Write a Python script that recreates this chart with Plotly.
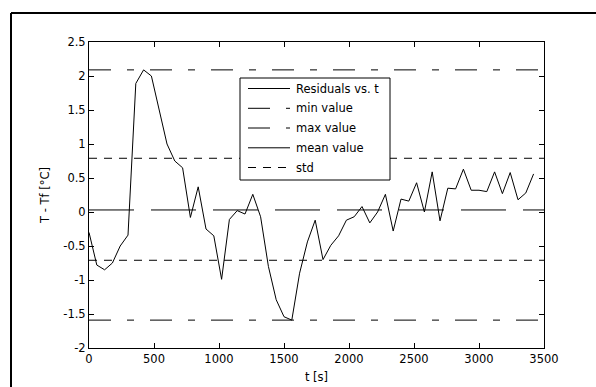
import plotly.graph_objects as go

# ---- data ----
t_s = [0, 60, 120, 180, 240, 300, 360, 420, 480, 540, 600, 660, 720, 780, 840, 900,
       960, 1020, 1080, 1140, 1200, 1260, 1320, 1380, 1440, 1500, 1560, 1620, 1680,
       1740, 1800, 1860, 1920, 1980, 2040, 2100, 2160, 2220, 2280, 2340, 2400, 2460,
       2520, 2580, 2640, 2700, 2760, 2820, 2880, 2940, 3000, 3060, 3120, 3180, 3240,
       3300, 3360, 3420]
residuals = [-0.30, -0.78, -0.85, -0.75, -0.50, -0.34, 1.89, 2.09, 2.00, 1.50, 1.00,
             0.75, 0.65, -0.08, 0.37, -0.25, -0.35, -0.99, -0.11, 0.02, -0.03, 0.26,
             -0.07, -0.80, -1.29, -1.54, -1.59, -0.90, -0.44, -0.12, -0.70, -0.49,
             -0.35, -0.12, -0.07, 0.08, -0.16, 0.00, 0.26, -0.28, 0.19, 0.16, 0.43,
             0.00, 0.59, -0.13, 0.35, 0.34, 0.63, 0.32, 0.32, 0.30, 0.59, 0.27, 0.58,
             0.18, 0.28, 0.56]
min_value = -1.59
max_value = 2.09
mean_value = 0.03
std_upper = 0.79
std_lower = -0.71
x_range = [0, 3500]
y_range = [-2, 2.5]
x_ticks = [0, 500, 1000, 1500, 2000, 2500, 3000, 3500]
y_ticks = [-2, -1.5, -1, -0.5, 0, 0.5, 1, 1.5, 2, 2.5]
y_tick_text = ["-2", "-1.5", "-1", "-0.5", "0", "0.5", "1", "1.5", "2", "2.5"]
legend_labels = ["Residuals vs. t", "min value", "max value", "mean value", "std"]

# ---- styles ----
W, H = 596, 387
L, R, T, B = 89, 544, 42, 348
FONT = "DejaVu Sans, Verdana, sans-serif"
FS = 11.5
DASH_MINMAX = "22px,16px,7px,16px"
DASH_MEAN = "45px,17px"
DASH_STD = "8px,7px"


def px_x(p):
    return (p - L) / (R - L)


def px_y(p):
    return (B - p) / (B - T)


fig = go.Figure()
fig.add_trace(go.Scatter(x=t_s, y=residuals, mode="lines",
                         line=dict(color="black", width=1), showlegend=False))
for val, dash in [(min_value, DASH_MINMAX), (max_value, DASH_MINMAX),
                  (mean_value, DASH_MEAN), (std_upper, DASH_STD), (std_lower, DASH_STD)]:
    fig.add_trace(go.Scatter(x=x_range, y=[val, val], mode="lines",
                             line=dict(color="black", width=1, dash=dash),
                             showlegend=False))

shapes = []
# outer frame (extends off canvas to right and bottom)
shapes.append(dict(type="line", xref="paper", yref="paper",
                   x0=px_x(11), y0=px_y(13), x1=px_x(W + 20), y1=px_y(13),
                   line=dict(color="black", width=2)))
shapes.append(dict(type="line", xref="paper", yref="paper",
                   x0=px_x(11), y0=px_y(13), x1=px_x(11), y1=px_y(H + 20),
                   line=dict(color="black", width=2)))
# custom legend box
shapes.append(dict(type="rect", xref="paper", yref="paper",
                   x0=px_x(240), y0=px_y(78), x1=px_x(390), y1=px_y(180),
                   line=dict(color="black", width=1), fillcolor="white", layer="above"))
rows = [88.5, 108.3, 128, 147.8, 167.5]
dashes = ["solid", DASH_MINMAX, DASH_MINMAX, DASH_MEAN, DASH_STD]
annotations = []
for yrow, dash, lab in zip(rows, dashes, legend_labels):
    shapes.append(dict(type="line", xref="paper", yref="paper",
                       x0=px_x(248), y0=px_y(yrow), x1=px_x(290), y1=px_y(yrow),
                       line=dict(color="black", width=1, dash=dash), layer="above"))
    annotations.append(dict(xref="paper", yref="paper", x=px_x(294), y=px_y(yrow),
                            text=lab, showarrow=False, xanchor="left", yanchor="middle",
                            font=dict(family=FONT, size=FS, color="black")))

fig.update_layout(
    width=W, height=H,
    margin=dict(l=L, r=W - R, t=T, b=H - B, pad=0, autoexpand=False),
    paper_bgcolor="white", plot_bgcolor="white",
    font=dict(family=FONT, size=FS, color="black"),
    shapes=shapes, annotations=annotations,
    showlegend=False,
)
fig.update_xaxes(range=x_range, tickvals=x_ticks, ticks="inside", ticklen=5,
                 tickcolor="black", showline=True, linecolor="black", linewidth=1,
                 mirror="ticks", showgrid=False, zeroline=False, automargin=False,
                 title=dict(text="t [s]", standoff=8, font=dict(size=FS)))
fig.update_yaxes(range=y_range, tickvals=y_ticks, ticktext=y_tick_text, ticks="inside",
                 ticklen=5, tickcolor="black", showline=True, linecolor="black",
                 linewidth=1, mirror="ticks", showgrid=False, zeroline=False,
                 automargin=False,
                 title=dict(text="T - Tf [°C]", standoff=11, font=dict(size=FS)))

fig.write_html("out.html")
